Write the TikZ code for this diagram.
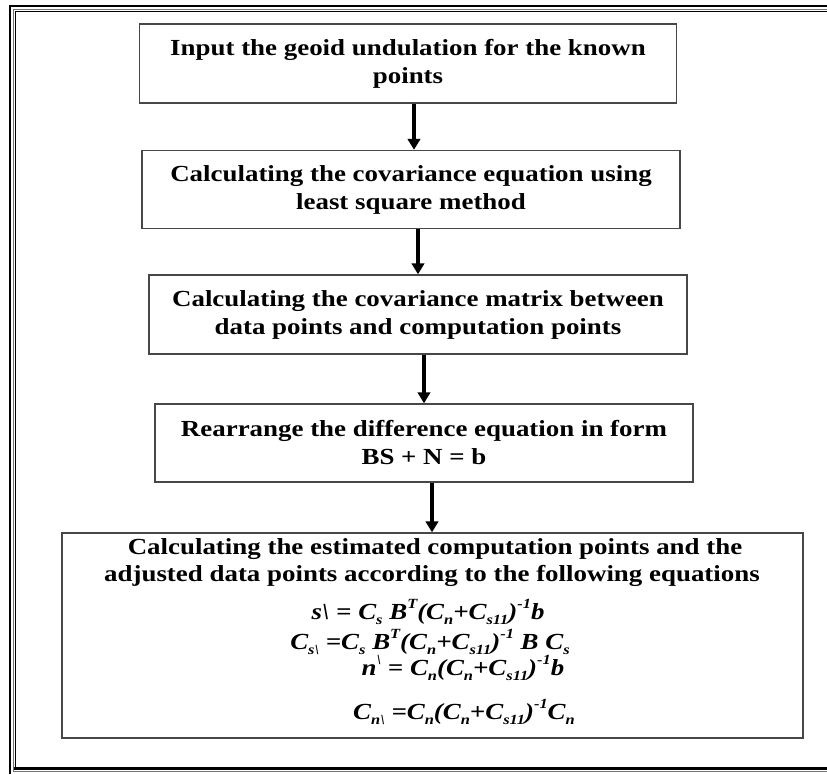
\documentclass[tikz,border=0pt]{standalone}
\usepackage{fontspec}
\setmainfont{Liberation Serif}[FakeStretch=1.17]
\usetikzlibrary{arrows.meta}
\newcommand\mysub[1]{\raisebox{-0.22em}{\fontsize{14}{14}\selectfont #1}}
\newcommand\mysup[1]{\raisebox{0.5em}{\fontsize{14}{14}\selectfont #1}}
\begin{document}
\begin{tikzpicture}[x=1pt,y=-1pt,
  box/.style={draw=black!72, line width=1.4pt, inner sep=0pt, align=center,
    font=\fontsize{23}{28}\selectfont\bfseries},
  arr/.style={line width=3.3pt, -{Triangle[width=12.5pt,length=11pt]}},
  txt/.style={inner sep=0pt, font=\fontsize{23}{26}\selectfont\bfseries},
  eq/.style={inner sep=0pt, font=\fontsize{23}{26}\selectfont\bfseries\itshape}]
\useasboundingbox (0,0) rectangle (827,774);
% page frame
\draw[black, line width=2pt] (10,774) -- (10,6) -- (827,6);
\draw[black!55, line width=1.2pt] (13.5,772) -- (13.5,9.5) -- (827,9.5);
\draw[black, line width=1.5pt] (15.5,768.5) -- (15.5,11.5) -- (827,11.5);
\draw[black, line width=3pt] (14,768.5) -- (827,768.5);
\draw[black!55, line width=1.2pt] (13.5,771.5) -- (827,771.5);
% boxes
\node[box, minimum width=537pt, minimum height=79pt] (b1) at (408,63.5)
  {Input the geoid undulation for the known\\points};
\node[box, minimum width=538pt, minimum height=78pt] (b2) at (411,189.5)
  {Calculating the covariance equation using\\least square method};
\node[box, minimum width=538pt, minimum height=79pt] (b3) at (418,314.5)
  {Calculating the covariance matrix between\\data points and computation points};
\node[box, minimum width=538pt, minimum height=78pt] (b4) at (424,443)
  {Rearrange the difference equation in form\\BS + N = b};
\node[box, minimum width=741pt, minimum height=205pt] (b5) at (432.5,635.5) {};
\node[txt] (t1) at (435,549) {Calculating the estimated computation points and the};
\node[txt] (t2) at (432,576) {adjusted data points according to the following equations};
\node[eq] (e1) at (428,612) {s\textbackslash{} = C\mysub{s} B\mysup{T}(C\mysub{n}+C\mysub{s11})\mysup{-1}b};
\node[eq] (e2) at (430,642) {C\mysub{s\textbackslash} =C\mysub{s} B\mysup{T}(C\mysub{n}+C\mysub{s11})\mysup{-1} B C\mysub{s}};
\node[eq] (e3) at (463,668) {n\mysup{\textbackslash} = C\mysub{n}(C\mysub{n}+C\mysub{s11})\mysup{-1}b};
\node[eq] (e4) at (464,712) {C\mysub{n\textbackslash} =C\mysub{n}(C\mysub{n}+C\mysub{s11})\mysup{-1}C\mysub{n}};
% arrows
\coordinate (x1) at (414,0);
\coordinate (x2) at (418,0);
\coordinate (x3) at (424,0);
\coordinate (x4) at (432,0);
\draw[arr] (b1.south -| x1) -- (b2.north -| x1);
\draw[arr] (b2.south -| x2) -- (b3.north -| x2);
\draw[arr] (b3.south -| x3) -- (b4.north -| x3);
\draw[arr] (b4.south -| x4) -- (b5.north -| x4);
\end{tikzpicture}
\end{document}
